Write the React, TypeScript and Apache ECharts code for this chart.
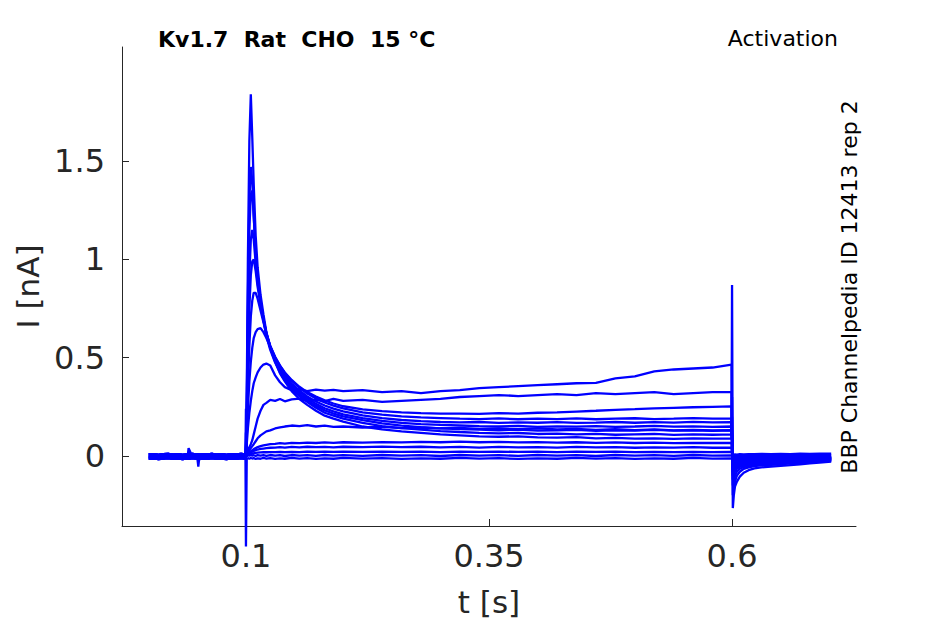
import React, { useEffect, useRef } from "react";
import * as echarts from "echarts";

// ---------- data (t in s, I in nA) ----------
const xTicks = [0.1, 0.35, 0.6];
const yTicks = [0, 0.5, 1, 1.5];

const baseT = [0, 0.005, 0.01, 0.015, 0.02, 0.025, 0.03, 0.035, 0.04, 0.041, 0.045, 0.05, 0.051, 0.052, 0.055, 0.06, 0.065, 0.07, 0.075, 0.08, 0.085, 0.09, 0.095, 0.0995];
const baseA = [0.008, 0.01, 0.006, 0.009, 0.011, 0.007, 0.009, 0.006, 0.01, 0.008, 0.011, 0.007, 0.009, 0.006, 0.01, 0.008, 0.011, 0.007, 0.009, 0.006, 0.01, 0.008, 0.011, 0.008];
const baseB = [-0.003, -0.001, -0.005, -0.002, 0.0, -0.004, -0.002, -0.005, -0.001, -0.003, 0.0, -0.004, -0.002, -0.005, -0.001, -0.003, 0.0, -0.004, -0.002, -0.005, -0.001, -0.003, 0.0, -0.003];
const baseC = [-0.014, -0.012, -0.016, -0.013, -0.011, -0.015, -0.013, -0.016, -0.012, -0.014, -0.011, -0.015, -0.013, -0.016, -0.012, -0.014, -0.011, -0.015, -0.013, -0.016, -0.012, -0.014, -0.011, -0.014];
const baseBlip = [-0.008, -0.006, -0.01, -0.007, -0.005, -0.009, -0.007, -0.01, -0.006, 0.04, -0.005, -0.009, -0.054, -0.008, -0.006, -0.01, -0.007, -0.005, -0.009, -0.007, -0.01, -0.006, -0.008, -0.007];

const stepT = [0.1, 0.1008, 0.102, 0.1035, 0.105, 0.1065, 0.108, 0.11, 0.112, 0.115, 0.118, 0.121, 0.125, 0.13, 0.135, 0.14, 0.147, 0.155, 0.163, 0.172, 0.181, 0.19, 0.2, 0.22, 0.24, 0.26, 0.28, 0.3, 0.32, 0.34, 0.36, 0.38, 0.4, 0.42, 0.44, 0.46, 0.48, 0.5, 0.52, 0.54, 0.56, 0.58, 0.5995];
const tailT = [0.6, 0.6008, 0.6018, 0.603, 0.605, 0.608, 0.612, 0.617, 0.623, 0.63, 0.64, 0.65, 0.66, 0.67, 0.68, 0.69, 0.702];

const p1Step = [0.02, 0.3, 1.0, 1.6, 1.84, 1.62, 1.38, 1.12, 0.96, 0.82, 0.72, 0.63, 0.55, 0.48, 0.42, 0.38, 0.33, 0.29, 0.26, 0.23, 0.205, 0.19, 0.175, 0.15, 0.135, 0.125, 0.118, 0.11, 0.105, 0.1, 0.098, 0.1, 0.095, 0.093, 0.096, 0.09, 0.092, 0.088, 0.09, 0.087, 0.09, 0.088, 0.09];
const p2Step = [0.02, 0.25, 0.8, 1.3, 1.47, 1.4, 1.22, 1.03, 0.9, 0.78, 0.69, 0.61, 0.54, 0.475, 0.425, 0.385, 0.34, 0.305, 0.275, 0.245, 0.22, 0.205, 0.19, 0.168, 0.152, 0.142, 0.134, 0.127, 0.122, 0.118, 0.115, 0.117, 0.112, 0.114, 0.11, 0.113, 0.108, 0.11, 0.112, 0.107, 0.11, 0.108, 0.11];
const p3Step = [0.02, 0.22, 0.7, 1.15, 1.33, 1.35, 1.22, 1.04, 0.91, 0.79, 0.7, 0.62, 0.55, 0.485, 0.435, 0.395, 0.35, 0.315, 0.285, 0.255, 0.232, 0.216, 0.202, 0.182, 0.166, 0.154, 0.147, 0.141, 0.137, 0.134, 0.131, 0.134, 0.129, 0.131, 0.133, 0.128, 0.131, 0.129, 0.133, 0.129, 0.131, 0.128, 0.13];
const p4Step = [0.02, 0.2, 0.55, 0.92, 1.1, 1.15, 1.1, 0.98, 0.88, 0.78, 0.7, 0.625, 0.555, 0.495, 0.445, 0.405, 0.36, 0.325, 0.295, 0.265, 0.243, 0.227, 0.212, 0.193, 0.179, 0.168, 0.162, 0.158, 0.155, 0.152, 0.15, 0.153, 0.148, 0.151, 0.149, 0.152, 0.148, 0.15, 0.153, 0.149, 0.151, 0.148, 0.15];
const p5Step = [0.02, 0.18, 0.45, 0.75, 0.92, 0.99, 1.0, 0.94, 0.86, 0.77, 0.69, 0.625, 0.56, 0.5, 0.452, 0.412, 0.368, 0.333, 0.303, 0.277, 0.257, 0.241, 0.227, 0.207, 0.193, 0.183, 0.177, 0.173, 0.171, 0.173, 0.168, 0.171, 0.169, 0.172, 0.168, 0.17, 0.173, 0.169, 0.172, 0.17, 0.174, 0.171, 0.172];
const p6Step = [0.02, 0.14, 0.35, 0.56, 0.71, 0.79, 0.83, 0.83, 0.8, 0.74, 0.68, 0.62, 0.56, 0.505, 0.46, 0.422, 0.382, 0.348, 0.318, 0.292, 0.272, 0.256, 0.242, 0.222, 0.21, 0.201, 0.196, 0.193, 0.19, 0.188, 0.191, 0.187, 0.19, 0.188, 0.191, 0.187, 0.19, 0.192, 0.188, 0.19, 0.193, 0.19, 0.19];
const p7Step = [0.02, 0.1, 0.24, 0.38, 0.48, 0.55, 0.6, 0.63, 0.645, 0.65, 0.63, 0.6, 0.555, 0.5, 0.46, 0.425, 0.387, 0.352, 0.325, 0.302, 0.283, 0.267, 0.253, 0.237, 0.228, 0.222, 0.218, 0.215, 0.216, 0.214, 0.218, 0.215, 0.22, 0.222, 0.226, 0.23, 0.235, 0.238, 0.242, 0.245, 0.248, 0.25, 0.252];
const p8Step = [0.02, 0.06, 0.14, 0.22, 0.28, 0.33, 0.37, 0.4, 0.425, 0.45, 0.465, 0.47, 0.46, 0.41, 0.375, 0.35, 0.335, 0.34, 0.33, 0.338, 0.332, 0.336, 0.33, 0.335, 0.325, 0.33, 0.32, 0.33, 0.335, 0.345, 0.35, 0.355, 0.36, 0.365, 0.37, 0.372, 0.395, 0.405, 0.43, 0.44, 0.445, 0.45, 0.465];
const p9Step = [0.02, 0.02, 0.03, 0.045, 0.06, 0.08, 0.11, 0.15, 0.19, 0.23, 0.26, 0.27, 0.285, 0.28, 0.29, 0.278, 0.288, 0.292, 0.28, 0.287, 0.279, 0.29, 0.28, 0.285, 0.275, 0.28, 0.285, 0.29, 0.3, 0.305, 0.31, 0.305, 0.31, 0.315, 0.31, 0.32, 0.315, 0.32, 0.325, 0.315, 0.32, 0.325, 0.325];
const p10Step = [0.02, 0.02, 0.025, 0.03, 0.04, 0.05, 0.06, 0.075, 0.09, 0.105, 0.115, 0.125, 0.13, 0.14, 0.145, 0.15, 0.155, 0.152, 0.157, 0.15, 0.155, 0.148, 0.15, 0.145, 0.148, 0.142, 0.145, 0.14, 0.143, 0.138, 0.14, 0.136, 0.14, 0.135, 0.138, 0.133, 0.136, 0.132, 0.135, 0.13, 0.133, 0.13, 0.132];
const p11Step = [0.01, 0.01, 0.015, 0.02, 0.025, 0.03, 0.035, 0.04, 0.045, 0.05, 0.054, 0.057, 0.06, 0.062, 0.065, 0.063, 0.067, 0.065, 0.068, 0.066, 0.069, 0.067, 0.07, 0.068, 0.071, 0.069, 0.072, 0.07, 0.073, 0.07, 0.072, 0.069, 0.071, 0.068, 0.07, 0.067, 0.069, 0.066, 0.068, 0.065, 0.067, 0.066, 0.066];
const p12Step = [0.005, 0.008, 0.01, 0.014, 0.018, 0.022, 0.026, 0.03, 0.033, 0.036, 0.038, 0.04, 0.042, 0.043, 0.045, 0.043, 0.046, 0.044, 0.047, 0.045, 0.046, 0.044, 0.047, 0.045, 0.048, 0.045, 0.047, 0.044, 0.046, 0.043, 0.046, 0.044, 0.045, 0.043, 0.046, 0.044, 0.045, 0.042, 0.044, 0.043, 0.045, 0.042, 0.043];
const p13Step = [0.24, 0.0, 0.005, 0.008, 0.01, 0.012, 0.014, 0.016, 0.017, 0.018, 0.019, 0.019, 0.02, 0.02, 0.021, 0.02, 0.021, 0.02, 0.022, 0.021, 0.022, 0.021, 0.022, 0.021, 0.022, 0.021, 0.022, 0.02, 0.022, 0.021, 0.022, 0.021, 0.022, 0.02, 0.022, 0.021, 0.022, 0.02, 0.021, 0.02, 0.021, 0.02, 0.021];
const p14Step = [0.12, 0.0, 0.004, 0.001, 0.005, 0.002, 0.004, 0.0, 0.005, 0.002, 0.004, 0.001, 0.005, 0.002, 0.004, 0.0, 0.005, 0.002, 0.004, 0.001, 0.005, 0.002, 0.004, 0.001, 0.005, 0.002, 0.004, 0.0, 0.005, 0.002, 0.004, 0.001, 0.005, 0.002, 0.004, 0.0, 0.005, 0.002, 0.004, 0.001, 0.005, 0.002, 0.003];
const p15Step = [-0.46, -0.015, -0.011, -0.014, -0.01, -0.013, -0.011, -0.015, -0.012, -0.014, -0.01, -0.013, -0.011, -0.015, -0.012, -0.014, -0.01, -0.013, -0.011, -0.015, -0.012, -0.014, -0.01, -0.013, -0.011, -0.015, -0.012, -0.014, -0.01, -0.013, -0.011, -0.015, -0.012, -0.014, -0.01, -0.013, -0.011, -0.015, -0.012, -0.014, -0.01, -0.013, -0.012];

const p1Tail = [0.87, -0.265, -0.2, -0.156, -0.13, -0.105, -0.085, -0.072, -0.063, -0.058, -0.054, -0.05, -0.046, -0.042, -0.037, -0.033, -0.028];
const p2Tail = [0.3, -0.2, -0.17, -0.13, -0.1, -0.08, -0.065, -0.058, -0.052, -0.048, -0.045, -0.042, -0.038, -0.035, -0.032, -0.028, -0.025];
const p3Tail = [0.2, -0.15, -0.13, -0.1, -0.08, -0.065, -0.056, -0.05, -0.046, -0.043, -0.04, -0.037, -0.034, -0.03, -0.028, -0.025, -0.022];
const p4Tail = [0.15, -0.12, -0.1, -0.08, -0.065, -0.055, -0.048, -0.044, -0.04, -0.038, -0.035, -0.032, -0.03, -0.027, -0.024, -0.022, -0.02];
const p5Tail = [0.1, -0.1, -0.08, -0.065, -0.055, -0.048, -0.043, -0.04, -0.036, -0.033, -0.031, -0.028, -0.026, -0.024, -0.022, -0.02, -0.018];
const p6Tail = [0.1, -0.08, -0.065, -0.055, -0.047, -0.042, -0.038, -0.035, -0.032, -0.03, -0.028, -0.025, -0.023, -0.021, -0.02, -0.018, -0.016];
const p7Tail = [0.1, -0.07, -0.06, -0.05, -0.043, -0.038, -0.034, -0.031, -0.029, -0.027, -0.025, -0.023, -0.021, -0.02, -0.018, -0.016, -0.015];
const p8Tail = [0.1, -0.06, -0.05, -0.042, -0.036, -0.032, -0.03, -0.028, -0.026, -0.024, -0.022, -0.02, -0.019, -0.017, -0.016, -0.015, -0.013];
const p9Tail = [0.05, -0.05, -0.04, -0.034, -0.03, -0.027, -0.025, -0.022, -0.02, -0.019, -0.018, -0.016, -0.015, -0.014, -0.012, -0.011, -0.01];
const p10Tail = [0.03, -0.04, -0.03, -0.025, -0.022, -0.02, -0.018, -0.016, -0.015, -0.014, -0.013, -0.012, -0.011, -0.01, -0.009, -0.008, -0.008];
const p11Tail = [0.02, -0.02, -0.018, -0.015, -0.012, -0.01, -0.009, -0.008, -0.007, -0.006, -0.006, -0.005, -0.005, -0.004, -0.004, -0.003, -0.003];
const p12Tail = [0.01, -0.008, -0.002, 0.001, -0.001, 0.002, 0.0, 0.003, 0.001, 0.003, 0.002, 0.004, 0.003, 0.004, 0.003, 0.005, 0.004];
const p13Tail = [0.02, 0.0, 0.006, 0.008, 0.007, 0.009, 0.008, 0.01, 0.009, 0.011, 0.01, 0.011, 0.01, 0.012, 0.011, 0.012, 0.012];
const p14Tail = [0.0, -0.012, -0.006, -0.005, -0.007, -0.005, -0.006, -0.004, -0.006, -0.004, -0.005, -0.003, -0.005, -0.003, -0.004, -0.003, -0.004];
const p15Tail = [-0.01, -0.02, -0.016, -0.017, -0.015, -0.016, -0.014, -0.015, -0.013, -0.014, -0.013, -0.014, -0.012, -0.013, -0.012, -0.012, -0.011];

const traces = [
  [baseA, p1Step, p1Tail],
  [baseB, p2Step, p2Tail],
  [baseC, p3Step, p3Tail],
  [baseA, p4Step, p4Tail],
  [baseB, p5Step, p5Tail],
  [baseC, p6Step, p6Tail],
  [baseA, p7Step, p7Tail],
  [baseB, p8Step, p8Tail],
  [baseC, p9Step, p9Tail],
  [baseA, p10Step, p10Tail],
  [baseB, p11Step, p11Tail],
  [baseC, p12Step, p12Tail],
  [baseA, p13Step, p13Tail],
  [baseB, p14Step, p14Tail],
  [baseBlip, p15Step, p15Tail],
];

const TEXT = "#262626";
const FONT = "DejaVu Sans";

function toPoints(base: number[], step: number[], tail: number[]) {
  return [
    ...baseT.map((t, i) => [t, base[i]]),
    ...stepT.map((t, i) => [t, step[i]]),
    ...tailT.map((t, i) => [t, tail[i]]),
  ];
}

export default function App() {
  const ref = useRef<HTMLDivElement>(null);
  useEffect(() => {
    if (!ref.current) return;
    const chart = echarts.init(ref.current, undefined, { renderer: "svg" });
    chart.setOption({
      animation: false,
      backgroundColor: "#ffffff",
      textStyle: { fontFamily: FONT },
      grid: { left: 122, right: 89, top: 47, bottom: 98 },
      xAxis: {
        type: "value",
        min: -0.0275,
        max: 0.7275,
        name: "t [s]",
        nameLocation: "middle",
        nameGap: 60,
        nameTextStyle: { fontSize: 31, color: TEXT, fontFamily: FONT },
        axisLine: { show: true, onZero: false, lineStyle: { color: TEXT, width: 1 } },
        axisTick: { show: true, inside: true, length: 7, customValues: xTicks, lineStyle: { color: TEXT } },
        axisLabel: { customValues: xTicks, fontSize: 32, color: TEXT, margin: 14, fontFamily: FONT },
        splitLine: { show: false },
      },
      yAxis: {
        type: "value",
        min: -0.356,
        max: 2.08,
        name: "I [nA]",
        nameLocation: "middle",
        nameGap: 76,
        nameTextStyle: { fontSize: 31, color: TEXT, fontFamily: FONT },
        axisLine: { show: true, onZero: false, lineStyle: { color: TEXT, width: 1 } },
        axisTick: { show: true, inside: true, length: 7, customValues: yTicks, lineStyle: { color: TEXT } },
        axisLabel: { customValues: yTicks, fontSize: 32, color: TEXT, margin: 17, fontFamily: FONT },
        splitLine: { show: false },
      },
      graphic: [
        {
          type: "text",
          left: 158,
          top: 28,
          style: { text: "Kv1.7  Rat  CHO  15 °C", font: `bold 22px ${FONT}`, fill: "#000000" },
        },
        {
          type: "text",
          right: 107,
          top: 27,
          style: { text: "Activation", font: `22px ${FONT}`, fill: "#000000" },
        },
        {
          type: "text",
          x: 849,
          y: 287,
          rotation: Math.PI / 2,
          style: { text: "BBP Channelpedia ID 12413 rep 2", font: `22px ${FONT}`, fill: "#000000", align: "center", verticalAlign: "middle" },
        },
      ],
      series: traces.map(([b, s, t]) => ({
        type: "line",
        data: toPoints(b, s, t),
        showSymbol: false,
        clip: false,
        silent: true,
        lineStyle: { color: "#0000ff", width: 2.3 },
      })),
    });
    return () => chart.dispose();
  }, []);
  return <div ref={ref} style={{ position: "fixed", left: 0, top: 0, width: 945, height: 624, background: "#fff" }} />;
}
